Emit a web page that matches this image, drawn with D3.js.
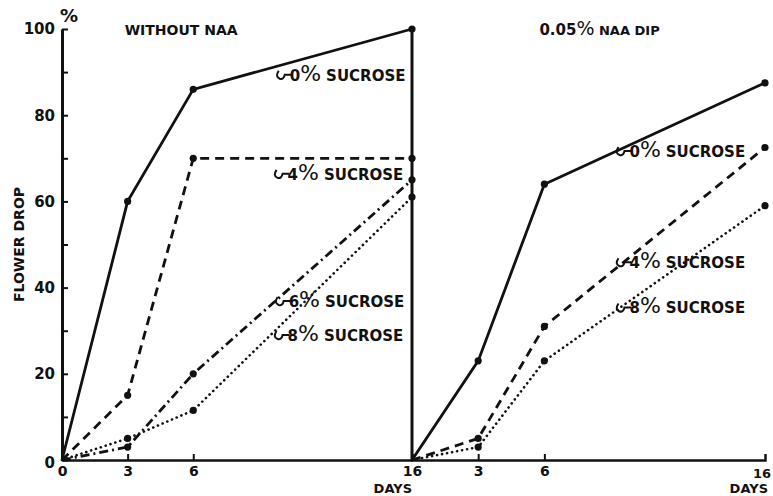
<!DOCTYPE html>
<html>
<head>
<meta charset="utf-8">
<script src="https://cdn.jsdelivr.net/npm/d3@7"></script>
<style>
body { margin: 0; background: #fff; }
text { font-family: "DejaVu Sans", sans-serif; font-weight: bold; fill: #111; }
</style>
</head>
<body>
<div class="chart"></div>
<script>
// days sampled in each panel
const days = [0, 3, 6, 16];

// without NAA (flower drop %)
const noNaa0 = [0, 60, 86, 100];
const noNaa4 = [0, 15, 70, 70];
const noNaa6 = [0, 3, 20, 65];
const noNaa8 = [0, 5, 11.5, 61];

// 0.05% NAA dip
const naa0 = [0, 23, 64, 87.5];
const naa4 = [0, 5, 31, 72.5];
const naa8 = [0, 3, 23, 59];

const yTicks = [0, 10, 20, 30, 40, 50, 60, 70, 80, 90, 100];
const leftTicks = [0, 3, 6, 16];
const rightTicks = [3, 6];

const width = 773;
const height = 496;

const svg = d3.select('.chart')
    .append('svg')
    .attr('width', width)
    .attr('height', height);

const y = d3.scaleLinear().domain([0, 100]).range([460, 29]);
const xL = d3.scaleLinear().domain([0, 16]).range([62, 412]);
const xR = d3.scaleLinear().domain([0, 16]).range([412, 765]);

const ink = '#111';

// y axis
const yAxis = svg.append('g')
    .attr('transform', `translate(${xL(0)},0)`)
    .call(d3.axisLeft(y)
        .tickValues(yTicks)
        .tickSizeInner(-6)
        .tickSizeOuter(0)
        .tickPadding(7)
        .tickFormat(d => (d % 20 === 0 && d > 0) ? d : ''));
yAxis.select('.domain').attr('stroke', ink).attr('stroke-width', 3);
yAxis.selectAll('.tick line').attr('stroke', ink).attr('stroke-width', 2);
yAxis.selectAll('.tick text').attr('font-size', 15).attr('fill', ink)
    .style('font-family', '"DejaVu Sans", sans-serif').style('font-weight', 'bold');

// zero label sits a little low and left
svg.append('text')
    .attr('x', xL(0) - 7)
    .attr('y', y(0) + 8)
    .attr('text-anchor', 'end')
    .attr('font-size', 15)
    .text('0');

svg.append('text')
    .attr('x', xL(0) + 7)
    .attr('y', y(100) - 7)
    .attr('text-anchor', 'middle')
    .attr('font-size', 18)
    .text('%');

// x axis, left and right panels
const xAxisL = svg.append('g')
    .attr('transform', `translate(0,${y(0)})`)
    .call(d3.axisBottom(xL)
        .tickValues(leftTicks)
        .tickSizeInner(-6)
        .tickSizeOuter(0)
        .tickPadding(6)
        .tickFormat(d => d));
const xAxisR = svg.append('g')
    .attr('transform', `translate(0,${y(0)})`)
    .call(d3.axisBottom(xR)
        .tickValues(rightTicks)
        .tickSizeInner(-6)
        .tickSizeOuter(-6)
        .tickPadding(6)
        .tickFormat(d => d));
[xAxisL, xAxisR].forEach(a => {
    a.select('.domain').attr('stroke', ink).attr('stroke-width', 2.5);
    a.selectAll('.tick line').attr('stroke', ink).attr('stroke-width', 2);
    a.selectAll('.tick text').attr('font-size', 14).attr('fill', ink)
        .style('font-family', '"DejaVu Sans", sans-serif').style('font-weight', 'bold');
});

svg.append('text')
    .attr('x', xR(16) - 3)
    .attr('y', y(0) + 18)
    .attr('text-anchor', 'middle')
    .attr('font-size', 13)
    .text('16');

svg.append('text')
    .attr('x', xL(16))
    .attr('y', y(0) + 33)
    .attr('text-anchor', 'end')
    .attr('font-size', 13)
    .text('DAYS');
svg.append('text')
    .attr('x', xR(16) + 3)
    .attr('y', y(0) + 33)
    .attr('text-anchor', 'end')
    .attr('font-size', 13)
    .text('DAYS');

svg.append('text')
    .attr('transform', `translate(24,${y(50)}) rotate(-90)`)
    .attr('text-anchor', 'middle')
    .attr('font-size', 14)
    .text('FLOWER DROP');

// panel titles
svg.append('text')
    .attr('x', xL(3) - 3)
    .attr('y', 35)
    .attr('font-size', 14)
    .text('WITHOUT  NAA');

const t2 = svg.append('text')
    .attr('x', xR(6) - 5)
    .attr('y', 35)
    .attr('font-size', 13);
t2.append('tspan').attr('font-size', 15).text('0.05');
t2.append('tspan').attr('font-size', 19).style('font-weight', 'normal').text('%');
t2.append('tspan').text(' NAA   DIP');

// vertical divider at day 16
svg.append('line')
    .attr('x1', xL(16)).attr('x2', xL(16))
    .attr('y1', y(0)).attr('y2', y(100))
    .attr('stroke', ink)
    .attr('stroke-width', 3);

const styles = {
    solid: null,
    dash: '9,6',
    dashdot: '9,4,2,4',
    dot: '0.1,5'
};

const series = [
    { x: xL, v: noNaa0, s: 'solid' },
    { x: xL, v: noNaa4, s: 'dash' },
    { x: xL, v: noNaa6, s: 'dashdot' },
    { x: xL, v: noNaa8, s: 'dot' },
    { x: xR, v: naa0, s: 'solid' },
    { x: xR, v: naa4, s: 'dash' },
    { x: xR, v: naa8, s: 'dot' }
];

series.forEach(d => {
    const pts = days.map((day, i) => [d.x(day), y(d.v[i])]);
    svg.append('path')
        .attr('d', d3.line()(pts))
        .attr('fill', 'none')
        .attr('stroke', ink)
        .attr('stroke-width', d.s === 'dot' ? 2.6 : 2.8)
        .attr('stroke-linecap', d.s === 'dot' ? 'round' : 'butt')
        .attr('stroke-dasharray', styles[d.s]);
    svg.selectAll(null)
        .data(pts.slice(1))
        .enter()
        .append('circle')
        .attr('cx', p => p[0])
        .attr('cy', p => p[1])
        .attr('r', 3.6)
        .attr('fill', ink);
});

// series labels (right edge) with small squiggle leaders
const labels = [
    { x: xL, day: 15.7, v: 88, pct: '0' },
    { x: xL, day: 15.6, v: 65, pct: '4' },
    { x: xL, day: 15.65, v: 35.5, pct: '6' },
    { x: xL, day: 15.6, v: 27.6, pct: '8' },
    { x: xR, day: 15.1, v: 70.3, pct: '0' },
    { x: xR, day: 15.1, v: 44.5, pct: '4' },
    { x: xR, day: 15.1, v: 34, pct: '8' }
];

labels.forEach(d => {
    const rx = d.x(d.day);
    const ly = y(d.v);
    const t = svg.append('text')
        .attr('x', rx)
        .attr('y', ly)
        .attr('text-anchor', 'end')
        .attr('font-size', 15);
    t.append('tspan').attr('font-size', 15).text(d.pct);
    t.append('tspan').attr('font-size', 22).style('font-weight', 'normal').text('%');
    t.append('tspan').attr('dx', 5).text('SUCROSE');
    const lx = rx - t.node().getComputedTextLength() - 2;
    svg.append('path')
        .attr('d', `M${lx - 14},${ly - 10} q-4,6 1,8 q4,1 5,-4 h7`)
        .attr('fill', 'none')
        .attr('stroke', ink)
        .attr('stroke-width', 2);
});
</script>
</body>
</html>
